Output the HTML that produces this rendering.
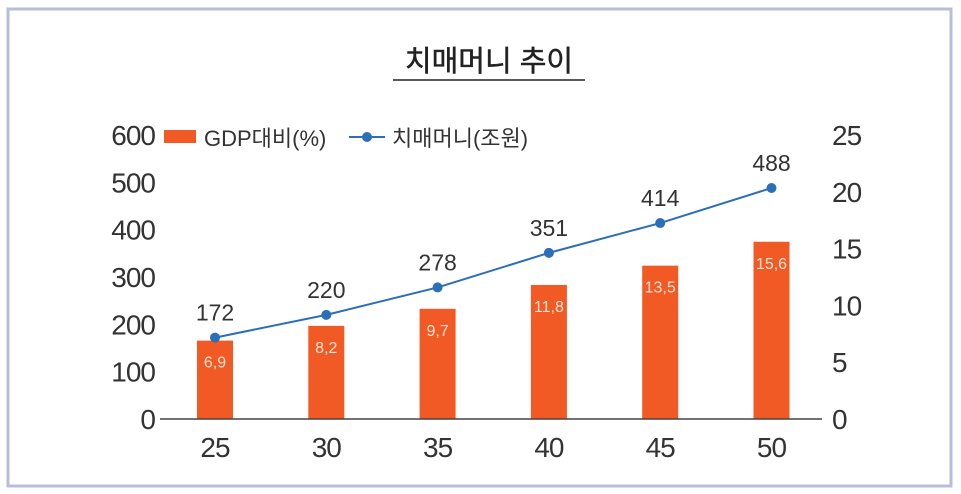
<!DOCTYPE html>
<html><head><meta charset="utf-8"><style>
body{margin:0;background:#fff;}
svg{display:block;font-family:"Liberation Sans","Noto Sans CJK KR",sans-serif;}
</style></head><body>
<svg id="c" width="961" height="494">
<rect x="8" y="9" width="943" height="477" fill="#fff" stroke="#b9bdd9" stroke-width="3"/>
<text x="489" y="71" font-size="29" text-anchor="middle" fill="#222" stroke="#222" stroke-width="0.5">치매머니 추이</text>
<line x1="393" y1="80" x2="585" y2="80" stroke="#222" stroke-width="1.5"/>
<g>
<rect x="164" y="130" width="32" height="13" fill="#f15a24"/>
<text x="204" y="146" font-size="22" fill="#333">GDP대비(%)</text>
<line x1="349" y1="137" x2="385" y2="137" stroke="#2a6fb8" stroke-width="2"/>
<circle cx="367" cy="137" r="5" fill="#2a6fb8"/>
<text x="392" y="146" font-size="22" fill="#333">치매머니(조원)</text>
</g>
<g id="plot"></g>
</svg>
<script>
const categories=["25","30","35","40","45","50"];
const gdpValues=[6.9,8.2,9.7,11.8,13.5,15.6];
const moneyValues=[172,220,278,351,414,488];
const leftTicks=[0,100,200,300,400,500,600];
const rightTicks=[0,5,10,15,20,25];
const NS="http://www.w3.org/2000/svg";
const g=document.getElementById('plot');
const y0=419,yTop=135;
const yL=v=>y0-(y0-yTop)*v/600;
const yR=v=>y0-(y0-yTop)*v/25;
const xC=i=>215+i*111.3;
function el(t,a,txt){const e=document.createElementNS(NS,t);for(const k in a)e.setAttribute(k,a[k]);if(txt!=null)e.textContent=txt;g.appendChild(e);return e;}
leftTicks.forEach(v=>{const e=el('text',{x:155,y:yL(v)+10,'font-size':28,'text-anchor':'end',fill:'#333','letter-spacing':'-1'},v);

});
rightTicks.forEach(v=>{const e=el('text',{x:832,y:yR(v)+10,'font-size':28,fill:'#333','letter-spacing':'-1'},v);

});
gdpValues.forEach((v,i)=>{const b=el('rect',{x:xC(i)-18,y:yR(v),width:36,height:y0-yR(v),fill:'#f15a24'});


const t=el('text',{x:xC(i),y:yR(v)+27,'font-size':16,'text-anchor':'middle',fill:'#fde3d6'},String(v).replace('.',','));

});
const ax=el('line',{x1:160,y1:y0,x2:822,y2:y0,stroke:'#444','stroke-width':1.5});


categories.forEach((c,i)=>{const t=el('text',{x:xC(i),y:457,'font-size':28,'text-anchor':'middle',fill:'#333','letter-spacing':'-1'},c);

});
const pl=el('polyline',{points:moneyValues.map((v,i)=>xC(i)+','+yL(v)).join(' '),fill:'none',stroke:'#2a6fb8','stroke-width':2});


moneyValues.forEach((v,i)=>{const p=el('circle',{cx:xC(i),cy:yL(v),r:5,fill:'#2a6fb8'});


const t=el('text',{x:xC(i),y:yL(v)-17,'font-size':23,'text-anchor':'middle',fill:'#333'},v);

});
</script>
</body></html>
